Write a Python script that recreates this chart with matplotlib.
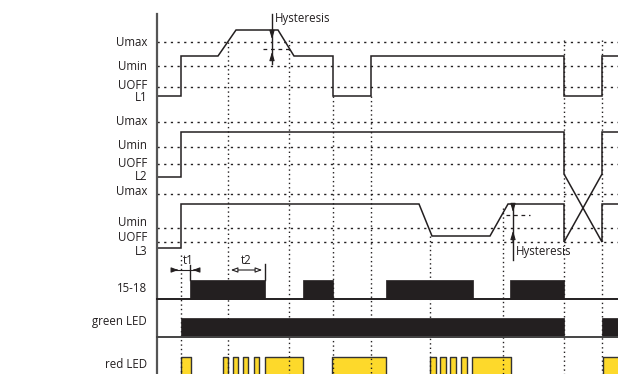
import matplotlib
matplotlib.use("Agg")
import matplotlib.pyplot as plt

plt.rcParams['font.family'] = ['Open Sans', 'DejaVu Sans']

# ---- data (time in px units, levels in px units, y grows downward) ----
L1_t = [157, 181, 181, 218, 236, 278, 294, 333, 333, 371, 371, 564, 564, 602, 602, 618]
L1_v = [96, 96, 56, 56, 30, 30, 56, 56, 96, 96, 56, 56, 96, 96, 56, 56]
L2_t = [157, 181, 181, 564, 564, 602, 602, 618]
L2_v = [177, 177, 132, 132, 174, 242, 204, 204]
L3_t = [157, 181, 181, 419, 432, 490, 508, 564, 564, 602, 602, 618]
L3_v = [248, 248, 204, 204, 236, 236, 204, 204, 242, 174, 132, 132]

ref_levels = [42, 66, 87, 122, 147, 164, 194, 228, 242]
level_labels = ["Umax", "Umin", "UOFF", "L1", "Umax", "Umin", "UOFF", "L2",
                "Umax", "Umin", "UOFF", "L3"]
level_label_y = [42, 66, 85, 97, 121, 145, 163, 176, 191, 222, 237, 251]

event_x = [181, 228, 289, 333, 371, 430, 503, 564, 602]
event_top = [255, 42, 40, 96, 96, 236, 208, 40, 40]

out_labels = ["15-18", "green LED", "red LED"]
out_label_y = [288, 322, 364]
relay_on = [(190, 265), (303, 333), (386, 473), (510, 564)]
green_on = [(181, 564), (602, 618)]
red_on = [(181, 191), (223, 228), (233, 238), (243, 248), (254, 259), (265, 303),
          (332, 386), (430, 436), (440, 446), (450, 456), (461, 467), (472, 511),
          (603, 620)]

INK = "#231f20"
YEL = "#fdd92b"
FS = 8.3

fig = plt.figure(figsize=(6.18, 3.74), dpi=100)
ax = fig.add_axes([0, 0, 1, 1])
ax.set_xlim(0, 618)
ax.set_ylim(374, 0)
ax.axis('off')

# reference dotted levels
for y in ref_levels:
    ax.plot([157, 620], [y, y], color=INK, lw=1.0, ls=(0, (1.6, 3.2)))
# event dotted verticals
for x, top in zip(event_x, event_top):
    ax.plot([x, x], [top, 376], color=INK, lw=1.0, ls=(0, (1, 2.2)))

# waveforms
for t, v in [(L1_t, L1_v), (L2_t, L2_v), (L3_t, L3_v)]:
    ax.plot(t, v, color=INK, lw=1.1, solid_joinstyle='miter')

# main vertical axis
ax.plot([157, 157], [14, 374], color="#555555", lw=1.6)

# labels
for s, y in zip(level_labels, level_label_y):
    ax.text(147, y, s, ha='right', va='center', fontsize=FS, color=INK)
for s, y in zip(out_labels, out_label_y):
    ax.text(147, y, s, ha='right', va='center', fontsize=FS, color=INK)

# hysteresis L1
ax.plot([272, 272], [14, 64], color=INK, lw=1.0)
ax.plot([263, 290], [49, 49], color=INK, lw=0.9, ls=(0, (3, 3)))
ax.annotate("", xy=(272, 42), xytext=(272, 30),
            arrowprops=dict(arrowstyle="-|>,head_length=0.5,head_width=0.15", color=INK, lw=0.8))
ax.annotate("", xy=(272, 49), xytext=(272, 62),
            arrowprops=dict(arrowstyle="-|>,head_length=0.5,head_width=0.15", color=INK, lw=0.8))
ax.text(275, 18, "Hysteresis", ha='left', va='center', fontsize=FS, color=INK)

# hysteresis L3
ax.plot([513, 513], [205, 260], color=INK, lw=1.0)
ax.plot([506, 530], [215, 215], color=INK, lw=0.9, ls=(0, (3, 3)))
ax.annotate("", xy=(513, 215), xytext=(513, 204),
            arrowprops=dict(arrowstyle="-|>,head_length=0.5,head_width=0.15", color=INK, lw=0.8))
ax.annotate("", xy=(513, 228), xytext=(513, 245),
            arrowprops=dict(arrowstyle="-|>,head_length=0.5,head_width=0.15", color=INK, lw=0.8))
ax.text(516, 252, "Hysteresis", ha='left', va='center', fontsize=FS, color=INK)

# t1 / t2
ax.plot([174, 197], [270, 270], color=INK, lw=0.8)
ax.annotate("", xy=(181, 270), xytext=(174, 270),
            arrowprops=dict(arrowstyle="-|>,head_length=0.4,head_width=0.15", color=INK, lw=0.8))
ax.annotate("", xy=(190, 270), xytext=(197, 270),
            arrowprops=dict(arrowstyle="-|>,head_length=0.4,head_width=0.15", color=INK, lw=0.8))
ax.plot([190, 190], [265, 280], color=INK, lw=1.0)
ax.text(188, 261, "t1", ha='center', va='center', fontsize=FS, color=INK)
ax.annotate("", xy=(228, 270), xytext=(265, 270),
            arrowprops=dict(arrowstyle="<|-|>,head_length=0.4,head_width=0.15", color=INK,
                            lw=0.8, fc='white'))
ax.plot([265, 265], [264, 280], color=INK, lw=1.0)
ax.text(246, 261, "t2", ha='center', va='center', fontsize=FS, color=INK)

# output rows
ax.broken_barh([(a, b - a) for a, b in relay_on], (280, 19), facecolors=INK, edgecolor=INK, lw=0.5)
ax.plot([157, 620], [299, 299], color=INK, lw=1.4)
ax.broken_barh([(a, b - a) for a, b in green_on], (318, 19), facecolors=INK, edgecolor=INK, lw=0.5)
ax.plot([157, 620], [337, 337], color="#444444", lw=1.4)
ax.broken_barh([(a, b - a) for a, b in red_on], (357, 25), facecolors=YEL, edgecolor="#333333", lw=1.0)

fig.savefig("out.png", dpi=100)
